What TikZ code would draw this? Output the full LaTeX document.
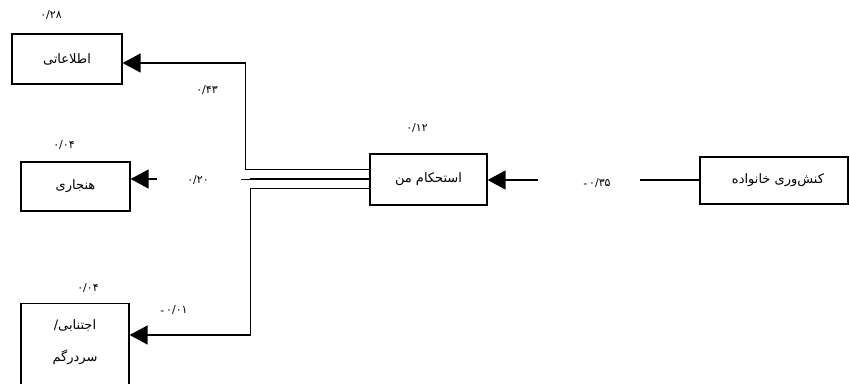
\documentclass[tikz,border=0pt]{standalone}
\usepackage{fontspec}
\setmainfont{DejaVu Sans}
\newfontfamily\arabicfont[Script=Arabic]{DejaVu Sans}
\TeXXeTstate=1
\usetikzlibrary{arrows.meta,calc}
\newcommand{\lowminus}{{\normalfont\raisebox{-1.5pt}{-}}\,}
\begin{document}
\begin{tikzpicture}[x=1pt,y=-1pt,
  box/.style={draw,line width=1.2pt,inner sep=0pt,font=\arabicfont\fontsize{13}{15}\selectfont},
  num/.style={font=\arabicfont\fontsize{11}{13}\selectfont,inner sep=1pt},
  conn/.style={line width=1.3pt},
  arr/.style={line width=1.3pt,-{Triangle[length=18pt,width=19pt]}}]
\useasboundingbox (0,0) rectangle (849,383);
% boxes
\node[box,minimum width=110pt,minimum height=50pt] (info) at (67,59) {\beginR اطلاعاتی\endR};
\node[box,minimum width=109pt,minimum height=49pt] (hanj) at (75.5,186.5) {\beginR هنجاری\endR};
\node[box,minimum width=108pt,minimum height=95pt,anchor=north] (avoid) at (75,303) {};
\node[font=\arabicfont\fontsize{13}{32}\selectfont,align=center,inner sep=0pt] (avoidtxt) at (75,342) {\beginR اجتنابی/\endR\\\beginR سردرگم\endR};
\node[box,minimum width=117pt,minimum height=51pt] (est) at (428.5,179.5) {\beginR استحکام من\endR};
\node[box,minimum width=148pt,minimum height=47pt] (fam) at (774,180.5) {\hspace*{8pt}\beginR کنش‌وری خانواده\endR};
% numbers
\node[num] (n1) at (51,15) {۰/۲۸};
\node[num] (n2) at (207,90) {۰/۴۳};
\node[num] (n3) at (64,145) {۰/۰۴};
\node[num] (n4) at (198,180) {۰/۲۰};
\node[num] (n5) at (88,288) {۰/۰۴};
\node[num] (n6) at (174,310) {\lowminus۰/۰۱};
\node[num] (n7) at (417,128) {۰/۱۲};
\node[num] (n8) at (597,183) {\lowminus۰/۳۵};
% connectors
\coordinate (r1) at (640,180);
\coordinate (r2) at (538,180);
\draw[conn] (fam.west |- r1) -- (r1);
\draw[arr] (r2) -- (r2 -| est.east);
\draw[arr] ([yshift=10pt]est.west) -- ++(-124,0) |- ([yshift=-4pt]info.east);
\coordinate (m1) at (250,179);
\coordinate (m0) at (241,179);
\coordinate (m2) at (157,179);
\draw[line width=1.9pt] (est.west |- m1) -- (m1);
\draw[line width=1pt] (m1) -- (m0);
\draw[arr] (m2) -- (m2 -| hanj.east);
\draw[arr] ([yshift=-9pt]est.west) -- ++(-119,0) |- (avoid.east |- 0,335);
\end{tikzpicture}
\end{document}
